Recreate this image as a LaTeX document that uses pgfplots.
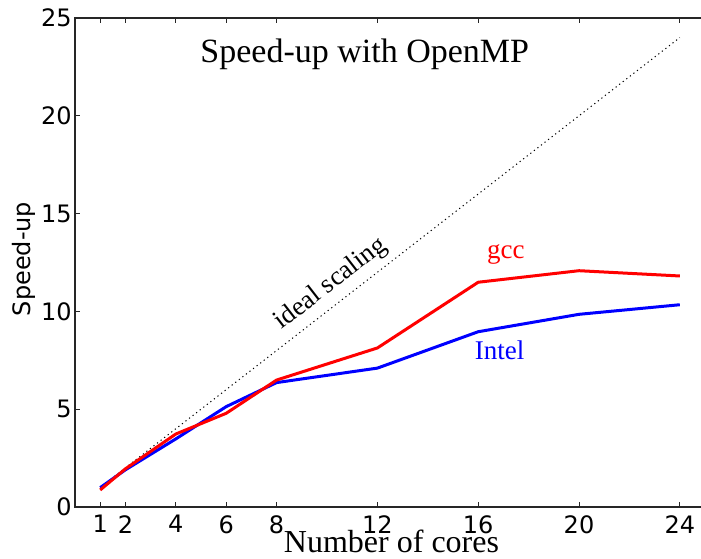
\documentclass[border=0pt]{standalone}
\usepackage{pgfplots}
\pgfplotsset{compat=1.18}
\usepackage{fontspec}
\setmainfont{Liberation Serif}
\newfontfamily\dejavu{DejaVu Sans}

\begin{document}
\begin{tikzpicture}
\begin{axis}[
  scale only axis,
  width=314pt, height=244.5pt,
  xmin=0, xmax=24.92, ymin=0, ymax=25,
  xtick={1,2,4,6,8,12,16,20,24},
  ytick={0,5,10,15,20,25},
  ytick pos=left,
  tick align=inside,
  major tick length=2.5pt,
  axis line style={black!85, line width=0.6pt},
  every tick/.style={black!85, line width=0.5pt},
  /pgf/number format/assume math mode=true,
  tick label style={font=\dejavu\fontsize{12}{12}\selectfont},
  xticklabel style={inner ysep=0pt, yshift=-4pt},
  yticklabel style={inner xsep=1.5pt},
  xlabel={Number of cores},
  ylabel={Speed-up},
  every axis x label/.style={at={(axis description cs:0.504,-0.094)}, anchor=base, font=\fontsize{16}{16}\selectfont},
  every axis y label/.style={at={(axis description cs:-0.0703,0.507)}, rotate=90, anchor=base, font=\dejavu\fontsize{12}{12}\selectfont},
]
  % ideal linear scaling
  \addplot[black, line width=0.5pt, dash pattern=on 0.6pt off 1.65pt] coordinates {(1,1) (24,24)};
  % Intel compiler
  \addplot[blue, line width=1.5pt] coordinates {
    (1,0.99) (2,1.9) (4,3.48) (6,5.13) (8,6.36) (12,7.1) (16,8.96) (20,9.85) (24,10.34)};
  % GNU compiler
  \addplot[red, line width=1.5pt] coordinates {
    (1,0.87) (2,1.95) (4,3.73) (6,4.79) (8,6.49) (12,8.13) (16,11.49) (20,12.08) (24,11.81)};

  \node[anchor=base, font=\fontsize{17}{17}\selectfont] at (axis cs:11.5,22.73) {Speed-up with OpenMP};
  \node[anchor=base, red, font=\fontsize{13.5}{13.5}\selectfont] at (axis cs:17.1,12.68) {gcc};
  \node[anchor=base, blue, font=\fontsize{13.5}{13.5}\selectfont] at (axis cs:16.85,7.52) {Intel};
  \node[rotate=37.8, font=\fontsize{13.3}{13.3}\selectfont] at (axis cs:10.15,11.4) {ideal scaling};
\end{axis}
\pgfresetboundingbox
\path[use as bounding box] ([xshift=-37.5pt,yshift=-26pt]current axis.south west) rectangle ([xshift=-1pt,yshift=9pt]current axis.north east);
\end{tikzpicture}
\end{document}
